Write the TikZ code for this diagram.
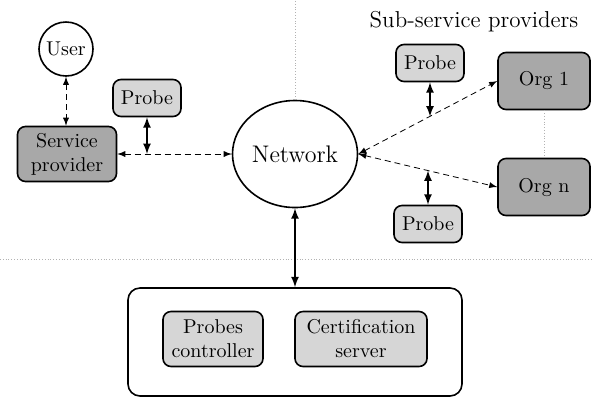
\documentclass[tikz,border=0pt]{standalone}
\usepackage{tikz}
\usetikzlibrary{arrows,shapes.geometric}

\begin{document}
\begin{tikzpicture}[x=0.5pt,y=-0.5pt,>=latex,
    every node/.style={align=center,inner sep=0pt},
    box/.style={draw,thick,rounded corners=4pt,minimum height=27.5pt},
    dark/.style={box,fill=gray!68},
    light/.style={box,fill=gray!32},
    probe/.style={light,minimum width=34pt,minimum height=18.5pt},
    sep/.style={gray!60,densely dotted},
    link/.style={<->,thin,densely dashed}]

\useasboundingbox (0,0) rectangle (592,398);

\node[circle,draw,thick,minimum size=27pt] (user) at (66,49) {User};
\node[probe] (probe1) at (147,98) {Probe};
\node[dark,minimum width=49.5pt] (sp) at (67,154) {Service\\provider};
\node[ellipse,draw,thick,minimum width=62.5pt,minimum height=53.5pt,font=\large] (net) at (295,154) {Network};

\node[font=\fontsize{11.5}{13}\selectfont] (title) at (474,22) {Sub-service providers};
\node[probe] (probe2) at (430,63) {Probe};
\node[dark,minimum width=46pt,minimum height=28.5pt] (org1) at (544,81) {Org 1};
\node[dark,minimum width=46pt,minimum height=28.5pt] (orgn) at (544,187) {Org n};
\node[probe] (probe3) at (428,224) {Probe};

\node[draw,thick,rounded corners=6pt,minimum width=167pt,minimum height=54pt] (ctl) at (295,342) {};
\node[light,minimum width=50pt] (pc) at (213,339) {Probes\\controller};
\node[light,minimum width=66pt] (cs) at (361,339) {Certification\\server};

% separators
\draw[sep] (net.north) -- (net.north |- 0,0);
\draw[sep] (0,259) -- (592,259);
\draw[sep] (org1.south) -- (orgn.north);

% links
\draw[link] (user.south) -- (user.south |- sp.north);
\draw[link] (sp) -- (net);
\draw[<->,thick] (probe1) -- (probe1 |- sp.east);
\draw[link] (net.east) -- coordinate[pos=0.514] (j1) (org1.west);
\draw[link] (net.east) -- coordinate[pos=0.5] (j2) (orgn.west);
\draw[<->,thick] (probe2) -- (probe2 |- j1);
\draw[<->,thick] (probe3) -- (probe3 |- j2);
\draw[<->,thick] (net) -- (ctl);

\end{tikzpicture}
\end{document}
